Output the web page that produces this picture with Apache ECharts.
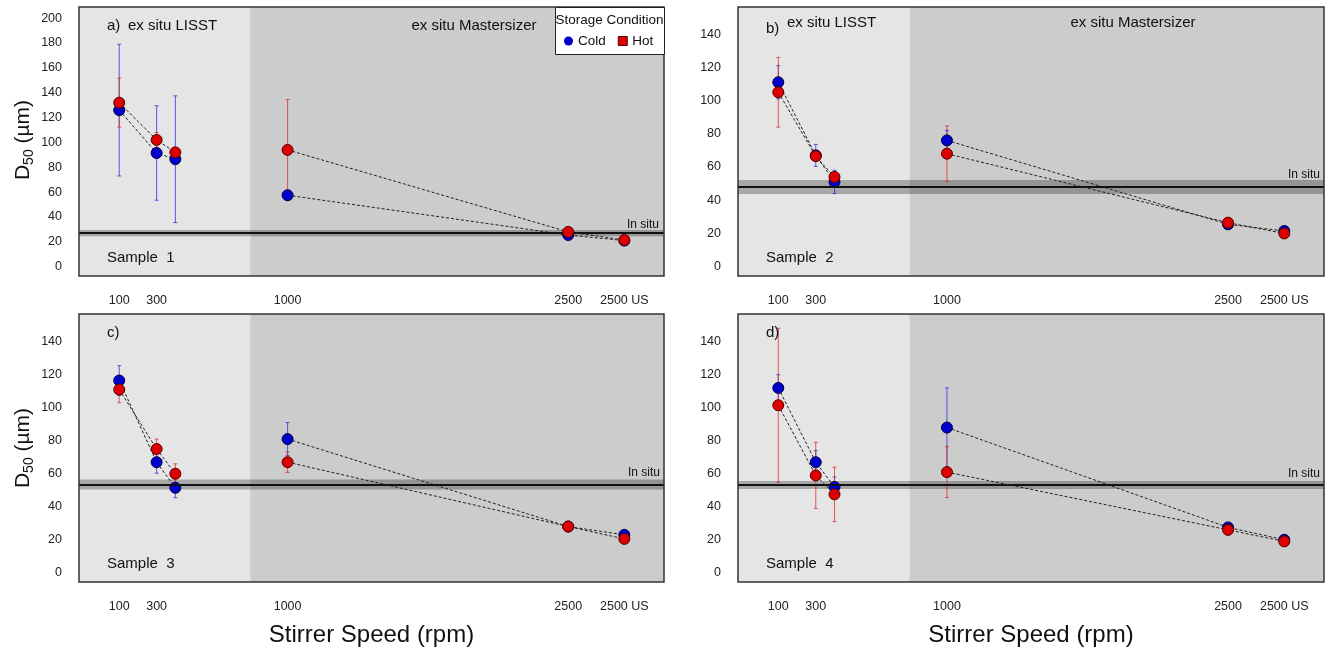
<!DOCTYPE html>
<html>
<head>
<meta charset="utf-8">
<script src="https://cdn.jsdelivr.net/npm/echarts@6/dist/echarts.min.js"></script>
<style>
html,body{margin:0;padding:0;background:#fff;}
#chart{width:1327px;height:650px;}
</style>
</head>
<body>
<div id="chart"></div>
<script>
// ---------- data ----------
const speeds = [100, 300, 400, 1000, 2500, 2800];
const lisstIdx = [0, 1, 2];        // ex situ LISST measurements
const masterIdx = [3, 4, 5];       // ex situ Mastersizer measurements
const tickValues = [100, 300, 400, 1000, 2500, 2800];
const labelValues = [100, 300, 1000, 2500, 2800];
const labelText = {100: '100', 300: '300', 1000: '1000', 2500: '2500', 2800: '2500 US'};
const yTicksA = [0, 20, 40, 60, 80, 100, 120, 140, 160, 180, 200];
const yTicksB = [0, 20, 40, 60, 80, 100, 120, 140];

const cold1 = [126, 91.5, 86.5, 57.5, 25.5, 21];
const coldSd1 = [53, 38, 51, 3, 1.5, 1];
const hot1 = [132, 102, 92, 94, 28, 21.5];
const hotSd1 = [19.7, 6, 3, 40.5, 1.5, 1];

const cold2 = [111, 67, 51, 76, 25.5, 21.5];
const coldSd2 = [10, 6.6, 7, 6, 1, 1];
const hot2 = [105, 66.5, 54, 68, 26.5, 20];
const hotSd2 = [21, 3, 3, 16.7, 1, 1];

const cold3 = [116.5, 67, 51.5, 81, 28, 23];
const coldSd3 = [9, 6.7, 6, 10, 1, 1];
const hot3 = [111, 75, 60, 67, 28, 20.5];
const hotSd3 = [8, 6, 6, 6.2, 1, 1];

const cold4 = [112, 67, 52, 88, 27.5, 20];
const coldSd4 = [8, 7, 6, 24, 1, 1];
const hot4 = [101.5, 59, 47.5, 61, 26, 19];
const hotSd4 = [46.7, 20, 16.5, 15.4, 3, 1];

const inSitu = [27, 48, 53.5, 53.2];
const inSituSd = [2.5, 4.2, 3, 2.4];

const panelLetters = ['a)', 'b)', 'c)', 'd)'];
const sampleNames = ['Sample  1', 'Sample  2', 'Sample  3', 'Sample  4'];
const regionSplit = 800;

// ---------- layout ----------
const FONT = '"Liberation Sans", Arial, Helvetica, sans-serif';
const xMin = -115, xMax = 3012;
const grids = [
  {left: 79, top: 7, width: 585, height: 269},
  {left: 738, top: 7, width: 586, height: 269},
  {left: 79, top: 314, width: 585, height: 268},
  {left: 738, top: 314, width: 586, height: 268}
];
const yRanges = [[-7.5, 209], [-5.6, 156.3], [-5.6, 156.8], [-5.6, 156.8]];
const yTicks = [yTicksA, yTicksB, yTicksB, yTicksB];
const colds = [cold1, cold2, cold3, cold4];
const coldSds = [coldSd1, coldSd2, coldSd3, coldSd4];
const hots = [hot1, hot2, hot3, hot4];
const hotSds = [hotSd1, hotSd2, hotSd3, hotSd4];

const COLD = '#0000cc', HOT = '#dd0000';

function errRender(color) {
  return function (params, api) {
    const x = api.value(0), lo = api.value(1), hi = api.value(2);
    const p1 = api.coord([x, lo]);
    const p2 = api.coord([x, hi]);
    const c = 2;
    const st = {stroke: color, lineWidth: 1};
    return {
      type: 'group',
      children: [
        {type: 'line', shape: {x1: p1[0], y1: p1[1], x2: p2[0], y2: p2[1]}, style: st},
        {type: 'line', shape: {x1: p1[0] - c, y1: p1[1], x2: p1[0] + c, y2: p1[1]}, style: st},
        {type: 'line', shape: {x1: p2[0] - c, y1: p2[1], x2: p2[0] + c, y2: p2[1]}, style: st}
      ]
    };
  };
}

const option = {
  animation: false,
  backgroundColor: '#ffffff',
  textStyle: {fontFamily: FONT},
  grid: grids.map(g => Object.assign({
    show: true, z: 10, backgroundColor: 'transparent',
    borderColor: '#333333', borderWidth: 1.5, containLabel: false
  }, g)),
  xAxis: grids.map((g, i) => ({
    type: 'value', gridIndex: i, min: xMin, max: xMax, position: 'bottom', offset: 2,
    axisLine: {show: false},
    splitLine: {show: false},
    axisTick: {show: true, length: 5, customValues: tickValues, lineStyle: {color: '#444', width: 1}},
    axisLabel: {show: true, customValues: labelValues, margin: 16, fontSize: 12.5, color: '#222',
      fontFamily: FONT, formatter: v => labelText[v] || ''}
  })),
  yAxis: grids.map((g, i) => ({
    type: 'value', gridIndex: i, min: yRanges[i][0], max: yRanges[i][1],
    axisLine: {show: false},
    splitLine: {show: false},
    axisTick: {show: true, length: 7, customValues: yTicks[i], lineStyle: {color: '#444', width: 1}},
    axisLabel: {show: true, customValues: yTicks[i], margin: 17, fontSize: 12.5, color: '#222', fontFamily: FONT}
  })),
  legend: {
    left: 564, top: 34, z: 120, padding: 0, itemWidth: 9, itemHeight: 9, itemGap: 12,
    selectedMode: false,
    textStyle: {fontSize: 13.5, color: '#111', fontFamily: FONT},
    data: [
      {name: 'Cold', icon: 'circle', itemStyle: {color: COLD, borderWidth: 0}},
      {name: 'Hot', icon: 'rect', itemStyle: {color: HOT, borderColor: '#550000', borderWidth: 1}}
    ]
  },
  series: [],
  graphic: []
};

function lineSeries(name, i, idx, vals, color, border, z) {
  return {
    type: 'line', name: name, xAxisIndex: i, yAxisIndex: i, z: z,
    data: idx.map(k => [speeds[k], vals[k]]),
    symbol: 'circle', symbolSize: 11,
    lineStyle: {color: '#222', width: 1, type: [3, 2]},
    itemStyle: {color: color, borderColor: border, borderWidth: 1},
    emphasis: {disabled: true}
  };
}

for (let i = 0; i < 4; i++) {
  // background regions
  option.series.push({
    type: 'scatter', name: 'bg' + i, xAxisIndex: i, yAxisIndex: i, data: [], silent: true, z: 0,
    markArea: {
      silent: true,
      data: [
        [{xAxis: xMin, itemStyle: {color: '#e5e5e5'}}, {xAxis: regionSplit}],
        [{xAxis: regionSplit, itemStyle: {color: '#cccccc'}}, {xAxis: xMax}]
      ]
    }
  });
  // in situ band and line
  option.series.push({
    type: 'scatter', name: 'In situ ' + i, xAxisIndex: i, yAxisIndex: i, data: [], silent: true, z: 1,
    markArea: {
      silent: true,
      itemStyle: {color: 'rgba(0,0,0,0.27)'},
      data: [[{yAxis: inSitu[i] - inSituSd[i]}, {yAxis: inSitu[i] + inSituSd[i]}]]
    },
    markLine: {
      silent: true, symbol: 'none', label: {show: false},
      lineStyle: {color: '#111', width: 2, type: 'solid'},
      data: [{yAxis: inSitu[i]}]
    }
  });
  // error bars
  option.series.push({
    type: 'custom', name: 'Cold SD ' + i, xAxisIndex: i, yAxisIndex: i, z: 2, silent: true,
    encode: {x: 0, y: [1, 2]},
    renderItem: errRender('rgba(40,40,220,0.75)'),
    data: speeds.map((s, k) => [s, colds[i][k] - coldSds[i][k], colds[i][k] + coldSds[i][k]])
  });
  option.series.push({
    type: 'custom', name: 'Hot SD ' + i, xAxisIndex: i, yAxisIndex: i, z: 3, silent: true,
    encode: {x: 0, y: [1, 2]},
    renderItem: errRender('rgba(220,40,40,0.75)'),
    data: speeds.map((s, k) => [s, hots[i][k] - hotSds[i][k], hots[i][k] + hotSds[i][k]])
  });
  // lines + points (separate segments for each instrument)
  option.series.push(lineSeries('Cold', i, lisstIdx, colds[i], COLD, '#000044', 4));
  option.series.push(lineSeries('Cold', i, masterIdx, colds[i], COLD, '#000044', 4));
  option.series.push(lineSeries('Hot', i, lisstIdx, hots[i], HOT, '#550000', 5));
  option.series.push(lineSeries('Hot', i, masterIdx, hots[i], HOT, '#550000', 5));

  const g = grids[i];
  const tx = g.left + 28;
  const topY = g.top + 19;
  option.graphic.push({
    type: 'text', x: tx, y: topY + (i === 1 ? 3 : 0), z: 100,
    style: {text: panelLetters[i], font: '15px ' + FONT, fill: '#111', textAlign: 'left', textVerticalAlign: 'middle'}
  });
  if (i < 2) {
    option.graphic.push({
      type: 'text', x: g.left + 49, y: topY - (i === 1 ? 3 : 0), z: 100,
      style: {text: 'ex situ LISST', font: '15px ' + FONT, fill: '#111', textAlign: 'left', textVerticalAlign: 'middle'}
    });
    option.graphic.push({
      type: 'text', x: g.left + 395, y: topY - (i === 1 ? 3 : 0), z: 100,
      style: {text: 'ex situ Mastersizer', font: '15px ' + FONT, fill: '#111', textAlign: 'center', textVerticalAlign: 'middle'}
    });
  }
  option.graphic.push({
    type: 'text', x: tx, y: g.top + g.height - 18, z: 100,
    style: {text: sampleNames[i], font: '15px ' + FONT, fill: '#111', textAlign: 'left', textVerticalAlign: 'middle'}
  });
}

// "In situ" labels
const inSituLabelPos = [[659, 225], [1320, 175], [660, 473], [1320, 474]];
inSituLabelPos.forEach(p => option.graphic.push({
  type: 'text', x: p[0], y: p[1], z: 100,
  style: {text: 'In situ', font: '12px ' + FONT, fill: '#111', textAlign: 'right', textVerticalAlign: 'middle'}
}));

// Y axis titles
[140, 448].forEach(cy => option.graphic.push({
  type: 'text', x: 23, y: cy, rotation: Math.PI / 2, z: 100,
  style: {
    text: '{a|D}{b|50}{a| (µm)}',
    textAlign: 'center', textVerticalAlign: 'middle',
    rich: {
      a: {fontSize: 21, fontFamily: FONT, fill: '#111', color: '#111', lineHeight: 26, verticalAlign: 'middle'},
      b: {fontSize: 14, fontFamily: FONT, fill: '#111', color: '#111', lineHeight: 26, verticalAlign: 'bottom'}
    }
  }
}));

// X axis titles
[371.5, 1031].forEach(cx => option.graphic.push({
  type: 'text', x: cx, y: 635, z: 100,
  style: {text: 'Stirrer Speed (rpm)', font: '24px ' + FONT, fill: '#111', textAlign: 'center', textVerticalAlign: 'middle'}
}));

// legend box and title
option.graphic.push({
  type: 'rect', z: 90, shape: {x: 555.5, y: 7.5, width: 109, height: 47},
  style: {fill: '#ffffff', stroke: '#222', lineWidth: 1}
});
option.graphic.push({
  type: 'text', x: 609.5, y: 20, z: 100,
  style: {text: 'Storage Condition', font: '13.5px ' + FONT, fill: '#111', textAlign: 'center', textVerticalAlign: 'middle'}
});

const chart = echarts.init(document.getElementById('chart'), null, {renderer: 'canvas'});
chart.setOption(option);
</script>
</body>
</html>
